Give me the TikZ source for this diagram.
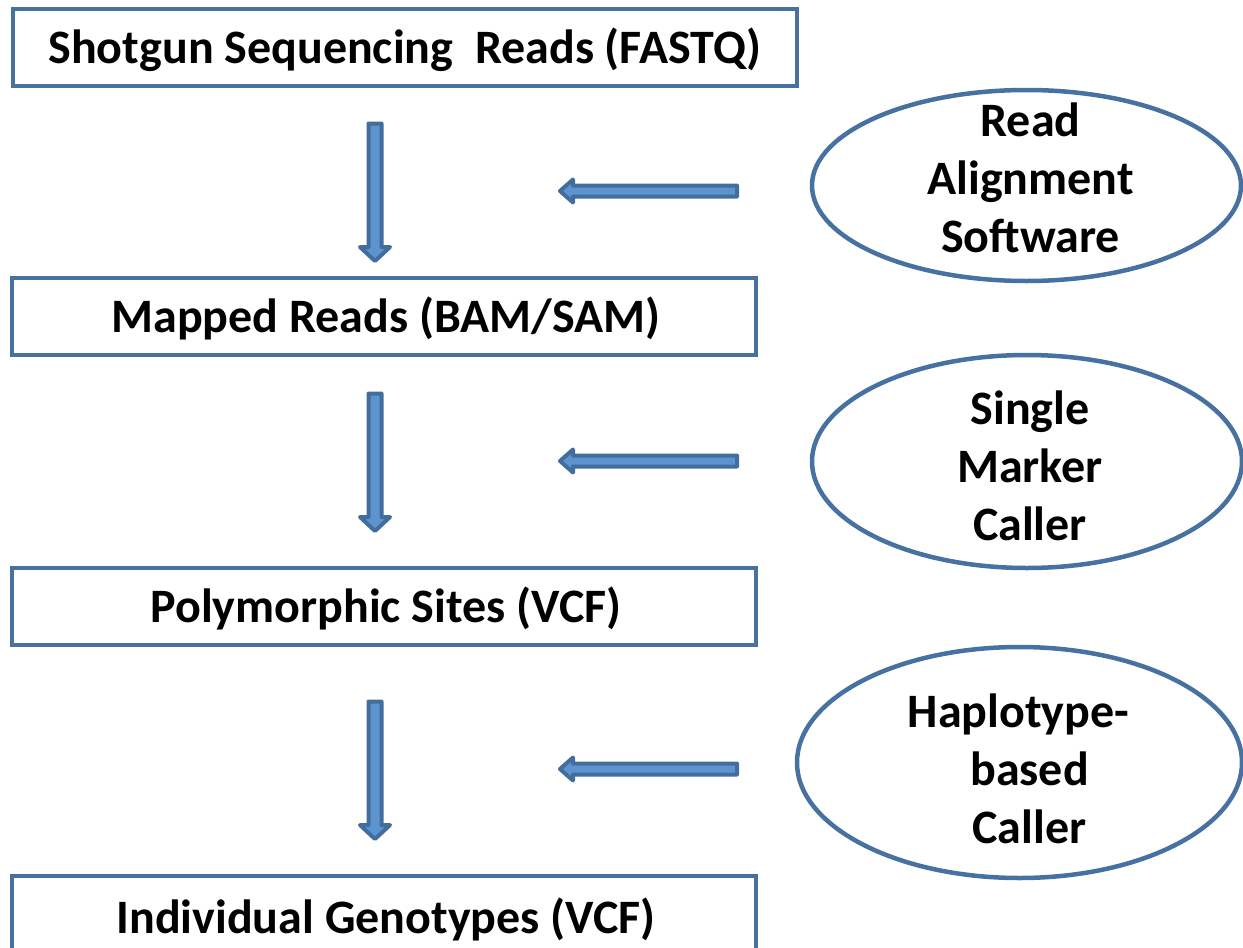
\documentclass[tikz,border=0pt]{standalone}
\usepackage{fontspec}
\setmainfont{Carlito}
\usetikzlibrary{shapes.geometric,calc}
\definecolor{boxblue}{RGB}{71,113,160}
\definecolor{arrfill}{RGB}{93,148,208}
\definecolor{arrline}{RGB}{66,110,158}
\tikzset{
  stepbox/.style={draw=boxblue, line width=4.5pt, fill=white, inner sep=0pt},
  toolell/.style={draw=boxblue, line width=4.5pt, ellipse, inner sep=0pt},
  lbl/.style={font=\fontsize{48}{58}\selectfont\bfseries, align=center, inner sep=0pt},
  blockarr/.style={draw=arrline, fill=arrfill, line width=4pt, line join=round},
}
\begin{document}
\begin{tikzpicture}[x=1pt,y=-1pt]
\useasboundingbox (0,0) rectangle (1243,948);
% boxes
\node[stepbox, minimum width=784pt, minimum height=77pt] (b1) at (405,47.5) {};
\node[stepbox, minimum width=744pt, minimum height=77pt] (b2) at (384,316.5) {};
\node[stepbox, minimum width=744pt, minimum height=77pt] (b3) at (384,606.5) {};
\node[stepbox, minimum width=744pt, minimum height=78pt] (b4) at (384,915) {};
\node[lbl] (t1) at ($(b1.center)+(0,2)$) {Shotgun Sequencing\ \ Reads (FASTQ)};
\node[lbl] (t2) at ($(b2.center)+(2,2)$) {Mapped Reads (BAM/SAM)};
\node[lbl] (t3) at ($(b3.center)+(2,2)$) {Polymorphic Sites (VCF)};
\node[lbl] (t4) at ($(b4.center)+(2,4)$) {Individual Genotypes (VCF)};
% ellipses
\node[toolell, minimum width=429pt, minimum height=191pt] (e1) at (1026.5,185.5) {};
\node[toolell, minimum width=430pt, minimum height=213pt] (e2) at (1027,461.5) {};
\node[toolell, minimum width=445pt, minimum height=231pt] (e3) at (1019.5,762.5) {};
\node[lbl] (l1) at ($(e1.center)+(4,-8)$) {Read\\Alignment\\Software};
\node[lbl] (l2) at ($(e2.center)+(3,4)$) {Single\\Marker\\Caller};
\node[lbl] (l3) at ($(e3.center)+(10,6)$) {\makebox[0pt][c]{\hspace*{-22pt}Haplotype-}\\based\\Caller};
% down block arrows between boxes
\foreach \n/\a/\b in {d1/123.5/261, d2/393.5/531, d3/701.5/839}{
  \coordinate (\n t) at (375,\a);
  \coordinate (\n e) at (375,\b);
  \draw[blockarr] ($(\n t)+(-6.5,0)$) -- ($(\n t)+(6.5,0)$) -- ($(\n e)+(6.5,-14)$)
     -- ($(\n e)+(15,-14)$) -- (\n e) -- ($(\n e)+(-15,-14)$) -- ($(\n e)+(-6.5,-14)$) -- cycle;
}
% left block arrows from tools
\foreach \n/\y in {a1/191, a2/461, a3/769}{
  \coordinate (\n s) at (737,\y);
  \coordinate (\n e) at (560,\y);
  \draw[blockarr] ($(\n s)+(0,-5.5)$) -- ($(\n s)+(0,5.5)$) -- ($(\n e)+(13,5.5)$)
     -- ($(\n e)+(13,11.5)$) -- (\n e) -- ($(\n e)+(13,-11.5)$) -- ($(\n e)+(13,-5.5)$) -- cycle;
}
\end{tikzpicture}
\end{document}
